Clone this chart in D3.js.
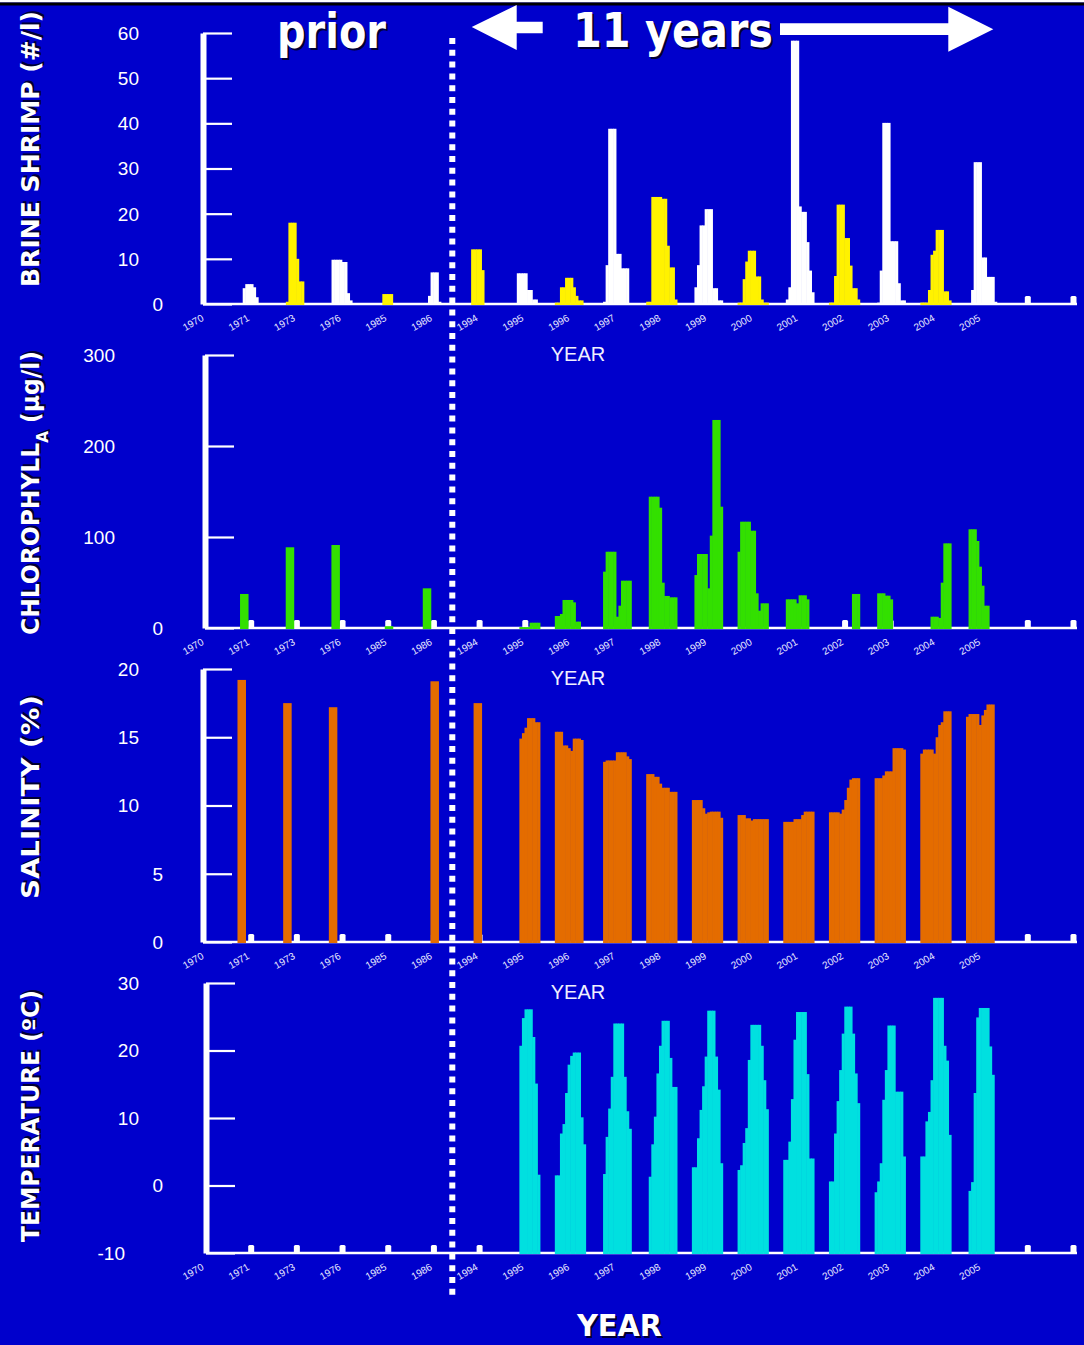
<!DOCTYPE html>
<html>
<head>
<meta charset="utf-8">
<script src="https://cdn.jsdelivr.net/npm/d3@7"></script>
<style>
  body { margin: 0; background: #0000cc; }
  svg { display: block; }
</style>
</head>
<body>
<script>
var _ = null;

// x slots: one tick per sampled year, two empty slots at the end
var yearLabels = ["1970", "1971", "1973", "1976", "1985", "1986", "1994", "1995", "1996", "1997",
                  "1998", "1999", "2000", "2001", "2002", "2003", "2004", "2005", "", ""];

// monthly values (Jan..Dec), null = no sample
var shrimp = [
  ["1971", [_, _, _, 3.5, 4.4, 4.4, 4.4, 3.7, 1.5, _, _, _]],
  ["1973", [_, _, 0.5, 18, 18, 18, 10, 5, 5, _, _, _]],
  ["1976", [_, _, 9.8, 9.8, 9.8, 9.8, 9.3, 9.3, 2.4, 0.8, _, _]],
  ["1985", [_, _, _, _, 2.2, 2.2, 2.2, 2.2, _, _, _, _]],
  ["1986", [_, _, _, _, 1.8, 7, 7, 7, 0.5, _, _, _]],
  ["1994", [_, _, _, 12.1, 12.1, 12.1, 12.1, 7.5, _, _, _, _]],
  ["1995", [_, _, _, 6.8, 6.8, 6.8, 6.8, 3.1, 3.1, 1.0, 1.0, _]],
  ["1996", [0.3, 0.3, 3.7, 3.7, 5.8, 5.8, 5.8, 3.7, 1.8, 0.8, 0.8, _]],
  ["1997", [_, 0.5, 8.6, 38.8, 38.8, 38.8, 11.1, 11.1, 7.9, 7.9, 7.9, _]],
  ["1998", [0.5, 0.5, 23.7, 23.7, 23.7, 23.7, 23.3, 23.3, 12.9, 8.1, 8.1, 1.0]],
  ["1999", [_, 3.7, 8.6, 17.4, 17.4, 21, 21, 21, 3.5, 3.5, 0.8, 0.8]],
  ["2000", [0.3, 0.3, 5.5, 9.4, 11.8, 11.8, 11.8, 6.1, 6.1, 1.0, 0.3, 0.3]],
  ["2001", [_, 1.0, 3.7, 58.3, 58.3, 58.3, 21.6, 20.4, 20.4, 13.7, 7.4, 2.6]],
  ["2002", [0.3, 0.3, 6.2, 22, 22, 22, 14.6, 14.6, 8.5, 3.5, 3.5, 1.0]],
  ["2003", [_, 0.3, 7.4, 40.1, 40.1, 40.1, 13.9, 13.9, 13.9, 4.6, 0.8, 0.8]],
  ["2004", [0.3, 0.3, 0.3, 3.1, 10.9, 11.8, 16.4, 16.4, 16.4, 2.8, 2.8, 0.8]],
  ["2005", [_, _, 3.1, 31.4, 31.4, 31.4, 10.3, 10.3, 6, 6, 6, 0.5]]
];
var shrimpEmpty = [18, 19];
var shrimpTicks = [0, 10, 20, 30, 40, 50, 60];

var chlorophyll = [
  ["1971", [_, _, _, 37.4, _, _, _, _, _, _, _, _]],
  ["1973", [_, _, _, 88.7, _, _, _, _, _, _, _, _]],
  ["1976", [_, _, _, 91.2, _, _, _, _, _, _, _, _]],
  ["1985", [_, _, _, _, _, _, 2, _, _, _, _, _]],
  ["1986", [_, _, _, 43.6, _, _, _, _, _, _, _, _]],
  ["1995", [_, _, _, _, 1, 1, 1, 1, 5.8, 5.8, 5.8, 5.8]],
  ["1996", [13.2, 13.2, 15.4, 30.8, 30.8, 30.8, 30.8, 28.2, 7, 7, _, _]],
  ["1997", [_, 61.9, 83.8, 83.8, 83.8, 83.8, 12.4, 24.5, 52, 52, 52, 52]],
  ["1998", [_, 144.3, 144.3, 144.3, 144.3, 132.2, 49.8, 35.2, 35.2, 33.7, 33.7, 33.7]],
  ["1999", [_, 58.2, 81.3, 81.3, 81.3, 81.3, 43.6, 101.5, 228.6, 228.6, 228.6, 133.3]],
  ["2000", [83.8, 116.8, 116.8, 116.8, 116.8, 106.9, 106.9, 38.1, 19, 27.1, 27.1, 27.1]],
  ["2001", [_, 31.5, 31.5, 31.5, 31.5, 27.1, 35.9, 35.9, 35.9, 31.5, _, _]],
  ["2002", [_, _, _, _, _, _, _, _, _, 37.4, 37.4, 37.4]],
  ["2003", [_, 38.1, 38.1, 38.1, 35.5, 35.5, 31.5, _, _, _, _, _]],
  ["2004", [_, _, _, _, 12.4, 12.4, 12.4, 11, 49.8, 93, 93, 93]],
  ["2005", [_, 108.5, 108.5, 108.5, 95.6, 67.4, 46.5, 24.5, 24.5, _, _, _]]
];
var chlEmpty = [1, 2, 3, 4, 5, 6, 7, 14, 15, 18, 19];
var chlTicks = [0, 100, 200, 300];

var salinity = [
  ["1971", [_, _, 19.2, _, _, _, _, _, _, _, _, _]],
  ["1973", [_, _, 17.5, _, _, _, _, _, _, _, _, _]],
  ["1976", [_, _, 17.2, _, _, _, _, _, _, _, _, _]],
  ["1986", [_, _, _, _, _, _, 19.1, _, _, _, _, _]],
  ["1994", [_, _, _, _, _, 17.5, _, _, _, _, _, _]],
  ["1995", [_, _, _, _, 14.9, 15.3, 15.7, 16.4, 16.4, 16.4, 16.1, 16.1]],
  ["1996", [15.4, 15.4, 15.4, 14.4, 14.4, 14.2, 14.0, 14.9, 14.9, 14.9, 14.8, _]],
  ["1997", [_, 13.2, 13.3, 13.3, 13.3, 13.3, 13.9, 13.9, 13.9, 13.9, 13.6, 13.4]],
  ["1998", [12.3, 12.3, 12.3, 12.1, 12.1, 11.6, 11.3, 11.3, 11.3, 11.0, 11.0, 11.0]],
  ["1999", [10.4, 10.4, 10.4, 10.4, 9.8, 9.4, 9.5, 9.55, 9.55, 9.55, 9.55, 9.1]],
  ["2000", [9.3, 9.3, 9.3, 9.06, 9.06, 8.9, 9.0, 9.0, 9.0, 9.0, 9.0, 9.0]],
  ["2001", [8.8, 8.8, 8.8, 8.8, 9.0, 9.0, 9.0, 9.3, 9.55, 9.55, 9.55, 9.55]],
  ["2002", [9.5, 9.5, 9.5, 9.5, 9.4, 9.7, 10.4, 11.3, 11.9, 12.0, 12.0, 12.0]],
  ["2003", [12.0, 12.0, 12.0, 12.2, 12.5, 12.5, 12.5, 14.2, 14.2, 14.2, 14.2, 14.1]],
  ["2004", [13.8, 14.1, 14.1, 14.1, 14.1, 13.8, 15.0, 15.9, 16.1, 16.9, 16.9, 16.9]],
  ["2005", [16.5, 16.7, 16.7, 16.7, 16.7, 15.9, 16.6, 17.0, 17.4, 17.4, 17.4, _]]
];
var salEmpty = [1, 2, 3, 4, 5, 6, 18, 19];
var salTicks = [0, 5, 10, 15, 20];

var temperature = [
  ["1995", [_, _, _, _, 20.7, 24.8, 26.1, 26.1, 26.1, 22.0, 15.1, 1.6]],
  ["1996", [1.5, 1.5, 7.7, 9.1, 13.7, 17.9, 19.2, 19.7, 19.7, 19.7, 10.1, 6.1]],
  ["1997", [_, 1.7, 7.2, 11.4, 16.1, 24.0, 24.0, 24.0, 24.0, 16.1, 11.0, 8.4]],
  ["1998", [_, 1.3, 6.1, 10.2, 16.6, 20.7, 24.4, 24.4, 24.4, 18.9, 14.6, 14.6]],
  ["1999", [2.7, 2.7, 7.0, 11.2, 14.7, 19.1, 25.9, 25.9, 25.9, 19.1, 14.2, 3.3]],
  ["2000", [2.3, 3.0, 6.3, 8.5, 18.6, 23.8, 23.8, 23.8, 23.8, 20.7, 15.6, 11.3]],
  ["2001", [3.8, 3.8, 6.5, 12.8, 21.6, 25.7, 25.7, 25.7, 25.7, 16.5, 4.0, 4.0]],
  ["2002", [0.6, 0.6, 7.7, 12.5, 17.1, 22.5, 26.5, 26.5, 26.5, 22.5, 16.6, 12.2]],
  ["2003", [-1.0, 0.6, 3.3, 12.7, 17.1, 23.7, 23.7, 23.7, 13.9, 13.9, 13.9, 4.3]],
  ["2004", [4.3, 4.3, 9.5, 10.9, 15.6, 27.8, 27.8, 27.8, 27.8, 20.7, 18.5, 7.5]],
  ["2005", [_, -0.8, 0.5, 13.7, 24.9, 26.3, 26.3, 26.3, 26.3, 20.6, 16.4, _]]
];
var tempEmpty = [1, 2, 3, 4, 5, 6, 18, 19];
var tempTicks = [-10, 0, 10, 20, 30];

var w = 1084;
var h = 1345;
var monthStep = 0.056;   // one month as a fraction of a year slot
var comic = "'Comic Sans MS', 'DejaVu Sans', sans-serif";
var plain = "'Liberation Sans', Arial, sans-serif";

var x = d3.scaleLinear()
          .domain([0, yearLabels.length - 1])
          .range([205, 1073]);

var svg = d3.select("body")
            .append("svg")
            .attr("width", w)
            .attr("height", h);

svg.append("rect").attr("width", w).attr("height", h).attr("fill", "#0000cc");
svg.append("rect").attr("width", w).attr("height", 2.5).attr("fill", "#ffffff");
svg.append("rect").attr("y", 2.5).attr("width", w).attr("height", 3).attr("fill", "#000000");

var panels = [
  { rows: shrimp, empty: shrimpEmpty, ticks: shrimpTicks, top: 33, bottom: 304, axisX: 203,
    fill: function(i) { return i % 2 === 0 ? "#fff200" : "#ffffff"; },
    title: [["BRINE SHRIMP (#/l)"]], titleLen: 276, titleY: 149 },
  { rows: chlorophyll, empty: chlEmpty, ticks: chlTicks, top: 355, bottom: 628, axisX: 205,
    fill: function() { return "#33e000"; },
    title: [["CHLOROPHYLL"], ["A", true], [" (µg/l)"]], titleLen: 284, titleY: 493 },
  { rows: salinity, empty: salEmpty, ticks: salTicks, top: 669, bottom: 942, axisX: 203,
    fill: function() { return "#e46c00"; },
    title: [["SALINITY (%)"]], titleLen: 204, titleY: 797 },
  { rows: temperature, empty: tempEmpty, ticks: tempTicks, top: 983, bottom: 1253, axisX: 206,
    fill: function() { return "#00e0e0"; },
    title: [["TEMPERATURE (ºC)"]], titleLen: 252, titleY: 1116 }
];

// y tick labels sit at different x depending on how many digits they have
function labelEnd(t) {
  if (t.charAt(0) === "-") return 125;
  return [0, 163, 139, 115][t.length];
}

function shadowText(parent, attrs, parts, size, len) {
  [["#000033", 2], ["#ffffff", 0]].forEach(function(s) {
    var t = parent.append("text")
                  .attr("transform", attrs.transform)
                  .attr("x", attrs.x + s[1])
                  .attr("y", attrs.y + s[1])
                  .attr("text-anchor", attrs.anchor || "start")
                  .attr("font-family", comic)
                  .attr("font-weight", "bold")
                  .attr("font-size", size)
                  .attr("fill", s[0])
                  .attr("textLength", len)
                  .attr("lengthAdjust", "spacingAndGlyphs");
    parts.forEach(function(p) {
      var ts = t.append("tspan").text(p[0]);
      if (p[1]) ts.attr("baseline-shift", "sub").attr("font-size", size * 0.65);
    });
  });
}

panels.forEach(function(p, k) {
  var y = d3.scaleLinear()
            .domain(d3.extent(p.ticks))
            .range([p.bottom, p.top]);
  var base = y.domain()[0];
  var g = svg.append("g");

  // y axis: thick line with ticks pointing right
  var ga = g.append("g")
            .attr("transform", "translate(" + p.axisX + ",0)")
            .attr("color", "#ffffff")
            .call(d3.axisRight(y).tickValues(p.ticks).tickSize(29).tickSizeOuter(0).tickFormat(""));
  ga.select(".domain").attr("stroke-width", 6);
  ga.selectAll(".tick line").attr("stroke-width", 2.2);

  g.selectAll(".ylab")
   .data(p.ticks)
   .enter()
   .append("text")
   .attr("x", function(d) { return labelEnd(String(d)); })
   .attr("y", function(d) { return y(d); })
   .attr("dy", "0.36em")
   .attr("text-anchor", "end")
   .attr("font-family", plain)
   .attr("font-size", 19)
   .attr("fill", "#ffffff")
   .text(function(d) { return d; });

  // x axis with rotated year labels
  var xa = g.append("g")
            .attr("transform", "translate(0," + p.bottom + ")")
            .attr("font-family", plain)
            .attr("font-size", 11)
            .call(d3.axisBottom(x)
                    .tickValues(d3.range(18))
                    .tickFormat(function(i) { return yearLabels[i]; })
                    .tickSize(0));
  xa.select(".domain").remove();
  xa.selectAll("text")
    .attr("x", 0).attr("y", 0).attr("dy", 0)
    .attr("fill", "#e8e8ff")
    .attr("text-anchor", "end")
    .attr("transform", "translate(-1,16) rotate(-30)");

  g.append("line")
   .attr("x1", p.axisX).attr("x2", 1077)
   .attr("y1", p.bottom).attr("y2", p.bottom)
   .attr("stroke", "#ffffff")
   .attr("stroke-width", 2.5);

  // no-data markers
  g.selectAll(".mark")
   .data(p.empty)
   .enter()
   .append("rect")
   .attr("x", function(i) { return x(i) - 2.5; })
   .attr("y", p.bottom - 8)
   .attr("width", 6)
   .attr("height", 8)
   .attr("rx", 1.5)
   .attr("fill", "#ffffff");

  var bars = [];
  p.rows.forEach(function(r) {
    var i = yearLabels.indexOf(r[0]);
    var n = r[1].filter(function(v) { return v !== null; }).length;
    r[1].forEach(function(v, m) {
      if (v !== null) bars.push({ i: i, m: m, v: v, single: n === 1 });
    });
  });

  var mw = x(monthStep) - x(0);
  g.selectAll(".bar")
   .data(bars)
   .enter()
   .append("rect")
   .attr("x", function(d) {
     return d.single ? x(d.i + (d.m - 5.5) * monthStep) - 4.25
                     : x(d.i + (d.m - 6) * monthStep) - 0.3;
   })
   .attr("width", function(d) { return d.single ? 8.5 : mw + 0.6; })
   .attr("y", function(d) { return y(d.v); })
   .attr("height", function(d) { return y(base) - y(d.v) + 1; })
   .attr("fill", function(d) { return p.fill(d.i); });

  if (k < 3) {
    g.append("text")
     .attr("x", 578)
     .attr("y", p.bottom + 57)
     .attr("text-anchor", "middle")
     .attr("font-family", plain)
     .attr("font-size", 20)
     .attr("fill", "#f0f0ff")
     .text("YEAR");
  }

  shadowText(g, { x: 0, y: 0, anchor: "middle",
                  transform: "translate(39," + p.titleY + ") rotate(-90)" },
             p.title, 24, p.titleLen);
});

// divider between prior data and the last 11 years
svg.append("line")
   .attr("x1", 452.3).attr("x2", 452.3)
   .attr("y1", 38).attr("y2", 1298)
   .attr("stroke", "#ffffff")
   .attr("stroke-width", 6)
   .attr("stroke-dasharray", "6 5.8");

var arrowLeft = [[471.7, 27], [516.7, 5], [516.7, 21.7], [542.7, 21.7], [542.7, 33.3], [516.7, 33.3], [516.7, 50]];
var arrowRight = [[780, 23.3], [948.3, 23.3], [948.3, 6.7], [993.3, 29.3], [948.3, 51.7], [948.3, 35], [780, 35]];
[arrowLeft, arrowRight].forEach(function(pts) {
  svg.append("polygon")
     .attr("points", pts.map(function(q) { return q.join(","); }).join(" "))
     .attr("fill", "#ffffff");
});

shadowText(svg, { x: 277, y: 48 }, [["prior"]], 48, 109);
shadowText(svg, { x: 573, y: 46.5 }, [["11 years"]], 48, 200);
shadowText(svg, { x: 577, y: 1336 }, [["YEAR"]], 31, 85);
</script>
</body>
</html>
